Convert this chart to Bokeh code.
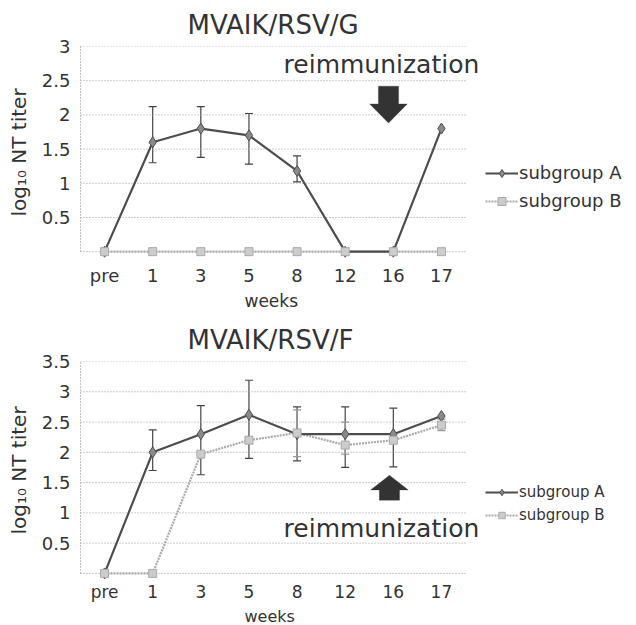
from bokeh.plotting import figure
from bokeh.models import (Range1d, FixedTicker, ColumnDataSource, Whisker, TeeHead,
                          Legend, LegendItem, Label, PolyAnnotation, Title)
from bokeh.layouts import column
from bokeh.embed import file_html
from bokeh.resources import INLINE

# ---------------- data ----------------
weeks = ["pre", "1", "3", "5", "8", "12", "16", "17"]

g_title = "MVAIK/RSV/G"
g_yticks = [0.5, 1, 1.5, 2, 2.5, 3]
g_a = [0, 1.6, 1.8, 1.7, 1.18, 0, 0, 1.8]
g_b = [0, 0, 0, 0, 0, 0, 0, 0]
g_a_err_weeks = ["1", "3", "5", "8"]
g_a_err_lower = [1.3, 1.38, 1.28, 1.02]
g_a_err_upper = [2.12, 2.12, 2.02, 1.4]

f_title = "MVAIK/RSV/F"
f_yticks = [0.5, 1, 1.5, 2, 2.5, 3, 3.5]
f_a = [0, 2.0, 2.3, 2.62, 2.3, 2.3, 2.3, 2.6]
f_b = [0, 0, 1.97, 2.2, 2.32, 2.12, 2.2, 2.45]
f_a_err_weeks = ["1", "3", "5", "8", "12", "16"]
f_a_err_lower = [1.7, 1.63, 1.9, 1.86, 1.75, 1.76]
f_a_err_upper = [2.37, 2.77, 3.19, 2.75, 2.75, 2.73]
f_b_err_weeks = ["8", "12", "17"]
f_b_err_lower = [1.93, 1.97, 2.36]
f_b_err_upper = [2.7, 2.5, 2.55]

series_names = ["subgroup A", "subgroup B"]
y_label = "log₁₀ NT titer"
x_label = "weeks"
note = "reimmunization"

FONT = "DejaVu Sans"
A_COL = "#4d4d4d"
B_COL = "#aaaaaa"
TXT = "#333333"

pos = {w: i + 0.5 for i, w in enumerate(weeks)}
N = len(weeks)
X_END = N * 556 / 385.0   # frame extends to the right edge; categories occupy 0..N


def block_arrow(xc, y_tail, y_tip, shaft_hw, head_hw, head_len):
    d = 1 if y_tip > y_tail else -1
    yb = y_tip - d * head_len
    xs = [xc - shaft_hw, xc - shaft_hw, xc - head_hw, xc, xc + head_hw, xc + shaft_hw, xc + shaft_hw]
    ys = [y_tail, yb, yb, y_tip, yb, yb, y_tail]
    return xs, ys


def make_fig(title, height, ymax, yticks, a_vals, b_vals, errs, frame_top, border_bottom,
             title_standoff, label_standoff, xfont, wfont, leg_font, leg_y, leg_gh, leg_spacing,
             note_y, arrow):
    ymin = -0.1
    p = figure(width=636, height=height, output_backend="svg", toolbar_location=None,
               x_range=Range1d(0, X_END), y_range=Range1d(ymin, ymax),
               min_border_left=80, min_border_right=0, min_border_top=frame_top,
               min_border_bottom=border_bottom)
    p.outline_line_color = None
    p.title.text = title
    p.title.align = "left"
    p.title.offset = 107
    p.title.standoff = title_standoff
    p.title.text_font = FONT
    p.title.text_font_size = "26px"
    p.title.text_font_style = "normal"
    p.title.text_color = TXT

    xs = [pos[w] for w in weeks]
    p.xaxis.ticker = FixedTicker(ticks=xs)
    p.xaxis.major_label_overrides = {pos[w]: w for w in weeks}
    p.xaxis.major_tick_out = 0
    p.xaxis.major_tick_in = 0
    p.xaxis.minor_tick_out = 0
    p.xaxis.minor_tick_in = 0
    p.xaxis.major_tick_line_color = None
    p.xaxis.minor_tick_line_color = None
    p.xaxis.axis_line_color = None
    p.xaxis.major_label_text_font = FONT
    p.xaxis.major_label_text_font_size = xfont
    p.xaxis.major_label_text_color = TXT
    p.xaxis.major_label_standoff = label_standoff
    # x-axis title centred under the category span (not the whole frame)
    p.add_layout(Title(text=x_label, align="left", offset=164, standoff=0,
                       text_font=FONT, text_font_size=wfont, text_font_style="normal",
                       text_color=TXT), "below")

    p.yaxis.ticker = FixedTicker(ticks=yticks)
    p.yaxis.bounds = (0, ymax)
    p.yaxis.major_tick_out = 0
    p.yaxis.major_tick_in = 0
    p.yaxis.minor_tick_out = 0
    p.yaxis.minor_tick_in = 0
    p.yaxis.major_tick_line_color = None
    p.yaxis.minor_tick_line_color = None
    p.yaxis.axis_line_color = "#888888"
    p.yaxis.axis_line_dash = "1 2"
    p.yaxis.major_label_text_font = FONT
    p.yaxis.major_label_text_font_size = "18px"
    p.yaxis.major_label_text_color = TXT
    p.yaxis.major_label_standoff = 10
    p.yaxis.axis_label = y_label
    p.yaxis.axis_label_text_font = FONT
    p.yaxis.axis_label_text_font_size = "20px"
    p.yaxis.axis_label_text_font_style = "normal"
    p.yaxis.axis_label_text_color = TXT
    p.yaxis.axis_label_standoff = 8

    p.xgrid.grid_line_color = None
    p.ygrid.grid_line_color = None
    # dotted horizontal grid (incl. zero line) over the category span only
    glines = [0] + list(yticks)
    p.segment(x0=[0] * len(glines), x1=[N] * len(glines), y0=glines, y1=glines,
              line_color="#999999", line_dash="1 2", line_width=1)

    # error bars
    for ew, lo, up, col in errs:
        src = ColumnDataSource(dict(x=[pos[w] for w in ew], lower=lo, upper=up))
        wk = Whisker(source=src, base="x", lower="lower", upper="upper", dimension="height",
                     line_color=col, line_width=1.2,
                     upper_head=TeeHead(size=8, line_color=col, line_width=1.2),
                     lower_head=TeeHead(size=8, line_color=col, line_width=1.2))
        p.add_layout(wk)

    src = ColumnDataSource(dict(x=xs, a=a_vals, b=b_vals))
    lb = p.line("x", "b", source=src, line_color=B_COL, line_width=2.2, line_dash="2 1")
    la = p.line("x", "a", source=src, line_color=A_COL, line_width=2.2)
    sa = p.scatter("x", "a", source=src, marker="diamond", size=11, fill_color="#8a8a8a",
                   line_color=A_COL, line_width=1)
    sb = p.scatter("x", "b", source=src, marker="square", size=8, fill_color="#cccccc",
                   line_color=B_COL, line_width=1)

    legend = Legend(items=[LegendItem(label=series_names[0], renderers=[la, sa]),
                           LegendItem(label=series_names[1], renderers=[lb, sb])],
                    location=(405, leg_y), orientation="vertical",
                    glyph_width=33, glyph_height=leg_gh, label_height=leg_gh,
                    label_standoff=1, spacing=leg_spacing,
                    padding=0, margin=0, border_line_alpha=0, background_fill_alpha=0,
                    label_text_font=FONT, label_text_font_size=leg_font,
                    label_text_color=TXT)
    p.add_layout(legend)

    p.add_layout(Label(x=4.22, y=note_y, text=note, text_font=FONT, text_font_size="25px",
                       text_color=TXT, text_baseline="middle", text_align="left"))
    axs, ays = block_arrow(*arrow)
    p.add_layout(PolyAnnotation(xs=axs, ys=ays, fill_color="#333333", fill_alpha=1,
                                line_color="#333333"))
    return p


p1 = make_fig(g_title, 310, 3, g_yticks, g_a, g_b,
              [(g_a_err_weeks, g_a_err_lower, g_a_err_upper, "#444444")],
              45, 51, 14, 6, "18px", "17px", "18px", 47, 20, 7, 2.74,
              (6.4, 2.42, 1.88, 0.21, 0.39, 0.28))
p2 = make_fig(f_title, 315, 3.5, f_yticks, f_a, f_b,
              [(f_a_err_weeks, f_a_err_lower, f_a_err_upper, "#444444"),
               (f_b_err_weeks, f_b_err_lower, f_b_err_upper, "#999999")],
              51, 42, 13, 2, "17px", "16px", "15px", 55, 16, 5, 0.74,
              (6.42, 1.21, 1.62, 0.21, 0.39, 0.24))

layout = column(p1, p2, spacing=0)
open("out.html", "w").write(file_html(layout, INLINE))
